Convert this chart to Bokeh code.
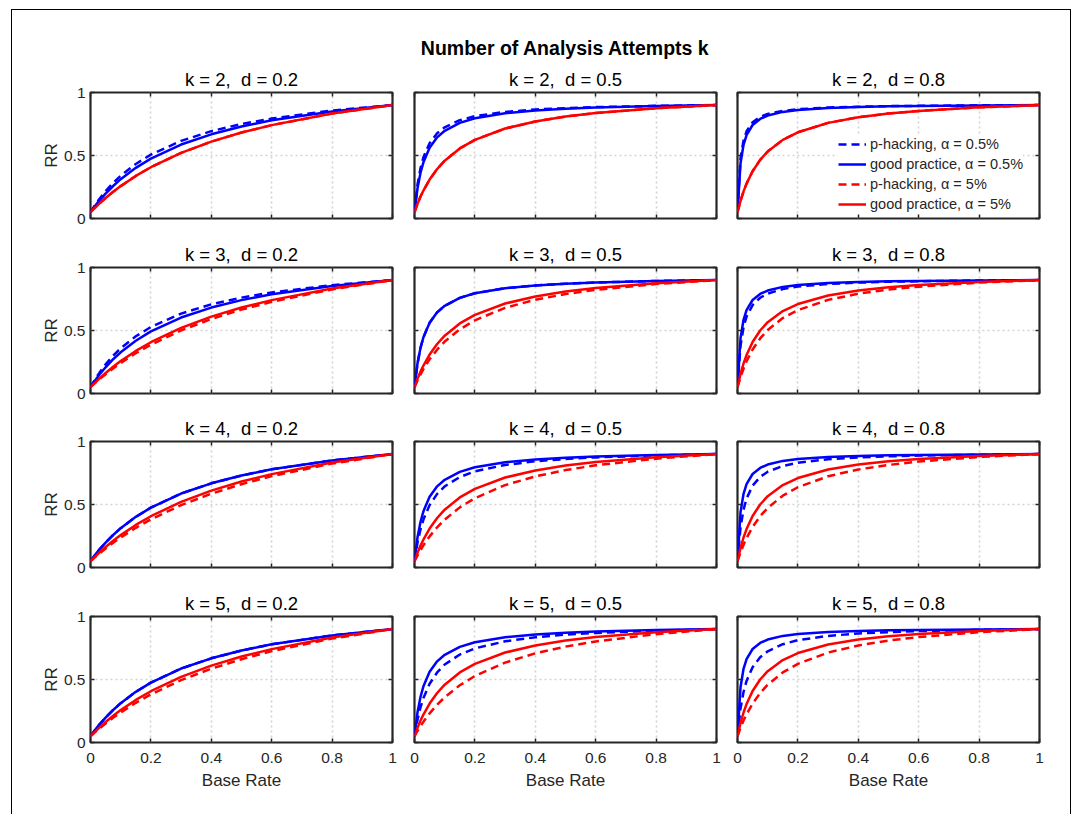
from bokeh.plotting import figure
from bokeh.models import Title, LinearAxis, FixedTicker, Legend, LegendItem, Div, Range1d, Grid
from bokeh.layouts import row, column
from bokeh.embed import file_html
from bokeh.resources import INLINE

# ---------------- data ----------------
base_rate = [0, 0.01, 0.02, 0.03, 0.05, 0.075, 0.1, 0.15, 0.2, 0.3, 0.4, 0.5, 0.6, 0.8, 1.0]
k_values = [2, 3, 4, 5]
d_values = ["0.2", "0.5", "0.8"]
x_ticks = [0, 0.2, 0.4, 0.6, 0.8, 1]
y_ticks = [0, 0.5, 1]
series_labels = ["p-hacking, \u03b1 = 0.5%", "good practice, \u03b1 = 0.5%",
                 "p-hacking, \u03b1 = 5%", "good practice, \u03b1 = 5%"]

# k = 2
rr_k2_d02_ph05 = [0.05, 0.088, 0.124, 0.157, 0.217, 0.283, 0.340, 0.433, 0.507, 0.616, 0.693, 0.750, 0.793, 0.857, 0.9]
rr_k2_d02_gp05 = [0.05, 0.083, 0.114, 0.144, 0.198, 0.258, 0.312, 0.402, 0.475, 0.587, 0.668, 0.730, 0.779, 0.850, 0.9]
rr_k2_d02_ph5 = [0.05, 0.074, 0.097, 0.120, 0.163, 0.212, 0.257, 0.338, 0.407, 0.521, 0.610, 0.682, 0.741, 0.833, 0.9]
rr_k2_d02_gp5 = [0.05, 0.074, 0.097, 0.120, 0.163, 0.212, 0.257, 0.338, 0.407, 0.521, 0.610, 0.682, 0.741, 0.833, 0.9]
rr_k2_d05_ph05 = [0.05, 0.270, 0.401, 0.489, 0.598, 0.676, 0.724, 0.780, 0.812, 0.846, 0.865, 0.876, 0.884, 0.894, 0.9]
rr_k2_d05_gp05 = [0.05, 0.240, 0.363, 0.449, 0.561, 0.644, 0.696, 0.759, 0.796, 0.836, 0.858, 0.871, 0.881, 0.893, 0.9]
rr_k2_d05_ph5 = [0.05, 0.116, 0.174, 0.224, 0.309, 0.393, 0.459, 0.556, 0.624, 0.714, 0.770, 0.809, 0.837, 0.875, 0.9]
rr_k2_d05_gp5 = [0.05, 0.116, 0.174, 0.224, 0.309, 0.393, 0.459, 0.556, 0.624, 0.714, 0.770, 0.809, 0.837, 0.875, 0.9]
rr_k2_d08_ph05 = [0.05, 0.477, 0.620, 0.692, 0.764, 0.807, 0.830, 0.854, 0.867, 0.881, 0.887, 0.892, 0.894, 0.898, 0.9]
rr_k2_d08_gp05 = [0.05, 0.438, 0.585, 0.662, 0.742, 0.790, 0.817, 0.846, 0.861, 0.877, 0.885, 0.890, 0.893, 0.897, 0.9]
rr_k2_d08_ph5 = [0.05, 0.140, 0.215, 0.277, 0.375, 0.465, 0.532, 0.624, 0.684, 0.759, 0.804, 0.833, 0.854, 0.882, 0.9]
rr_k2_d08_gp5 = [0.05, 0.140, 0.215, 0.277, 0.375, 0.465, 0.532, 0.624, 0.684, 0.759, 0.804, 0.833, 0.854, 0.882, 0.9]
# k = 3
rr_k3_d02_ph05 = [0.05, 0.092, 0.131, 0.166, 0.231, 0.300, 0.359, 0.454, 0.528, 0.634, 0.708, 0.761, 0.802, 0.860, 0.9]
rr_k3_d02_gp05 = [0.05, 0.086, 0.119, 0.151, 0.208, 0.272, 0.327, 0.419, 0.493, 0.603, 0.682, 0.741, 0.787, 0.854, 0.9]
rr_k3_d02_ph5 = [0.05, 0.072, 0.093, 0.114, 0.153, 0.199, 0.242, 0.320, 0.387, 0.501, 0.591, 0.666, 0.728, 0.826, 0.9]
rr_k3_d02_gp5 = [0.05, 0.074, 0.097, 0.120, 0.163, 0.212, 0.257, 0.338, 0.407, 0.521, 0.610, 0.682, 0.741, 0.833, 0.9]
rr_k3_d05_ph05 = [0.05, 0.240, 0.363, 0.449, 0.561, 0.644, 0.696, 0.759, 0.796, 0.836, 0.858, 0.871, 0.881, 0.893, 0.9]
rr_k3_d05_gp05 = [0.05, 0.240, 0.363, 0.449, 0.561, 0.644, 0.696, 0.759, 0.796, 0.836, 0.858, 0.871, 0.881, 0.893, 0.9]
rr_k3_d05_ph5 = [0.05, 0.104, 0.152, 0.195, 0.271, 0.348, 0.412, 0.509, 0.581, 0.680, 0.744, 0.789, 0.823, 0.869, 0.9]
rr_k3_d05_gp5 = [0.05, 0.116, 0.174, 0.224, 0.309, 0.393, 0.459, 0.556, 0.624, 0.714, 0.770, 0.809, 0.837, 0.875, 0.9]
rr_k3_d08_ph05 = [0.05, 0.379, 0.526, 0.610, 0.702, 0.760, 0.793, 0.829, 0.849, 0.869, 0.880, 0.887, 0.891, 0.897, 0.9]
rr_k3_d08_gp05 = [0.05, 0.438, 0.585, 0.662, 0.742, 0.790, 0.817, 0.846, 0.861, 0.877, 0.885, 0.890, 0.893, 0.897, 0.9]
rr_k3_d08_ph5 = [0.05, 0.130, 0.198, 0.256, 0.349, 0.437, 0.504, 0.599, 0.662, 0.743, 0.792, 0.825, 0.848, 0.880, 0.9]
rr_k3_d08_gp5 = [0.05, 0.155, 0.238, 0.305, 0.409, 0.500, 0.566, 0.654, 0.710, 0.778, 0.817, 0.843, 0.861, 0.885, 0.9]
# k = 4
rr_k4_d02_ph05 = [0.05, 0.083, 0.114, 0.144, 0.198, 0.258, 0.312, 0.402, 0.475, 0.587, 0.668, 0.730, 0.779, 0.850, 0.9]
rr_k4_d02_gp05 = [0.05, 0.083, 0.114, 0.144, 0.198, 0.258, 0.312, 0.402, 0.475, 0.587, 0.668, 0.730, 0.779, 0.850, 0.9]
rr_k4_d02_ph5 = [0.05, 0.071, 0.092, 0.112, 0.151, 0.196, 0.238, 0.315, 0.382, 0.495, 0.586, 0.661, 0.725, 0.825, 0.9]
rr_k4_d02_gp5 = [0.05, 0.074, 0.097, 0.120, 0.163, 0.212, 0.257, 0.338, 0.407, 0.521, 0.610, 0.682, 0.741, 0.833, 0.9]
rr_k4_d05_ph05 = [0.05, 0.198, 0.304, 0.383, 0.495, 0.584, 0.644, 0.718, 0.763, 0.814, 0.843, 0.861, 0.874, 0.890, 0.9]
rr_k4_d05_gp05 = [0.05, 0.240, 0.363, 0.449, 0.561, 0.644, 0.696, 0.759, 0.796, 0.836, 0.858, 0.871, 0.881, 0.893, 0.9]
rr_k4_d05_ph5 = [0.05, 0.096, 0.139, 0.178, 0.247, 0.319, 0.380, 0.477, 0.550, 0.654, 0.723, 0.773, 0.811, 0.864, 0.9]
rr_k4_d05_gp5 = [0.05, 0.116, 0.174, 0.224, 0.309, 0.393, 0.459, 0.556, 0.624, 0.714, 0.770, 0.809, 0.837, 0.875, 0.9]
rr_k4_d08_ph05 = [0.05, 0.317, 0.459, 0.547, 0.649, 0.719, 0.760, 0.806, 0.831, 0.859, 0.873, 0.882, 0.888, 0.895, 0.9]
rr_k4_d08_gp05 = [0.05, 0.438, 0.585, 0.662, 0.742, 0.790, 0.817, 0.846, 0.861, 0.877, 0.885, 0.890, 0.893, 0.897, 0.9]
rr_k4_d08_ph5 = [0.05, 0.120, 0.181, 0.234, 0.322, 0.407, 0.473, 0.570, 0.637, 0.724, 0.778, 0.814, 0.841, 0.877, 0.9]
rr_k4_d08_gp5 = [0.05, 0.155, 0.238, 0.305, 0.409, 0.500, 0.566, 0.654, 0.710, 0.778, 0.817, 0.843, 0.861, 0.885, 0.9]
# k = 5
rr_k5_d02_ph05 = [0.05, 0.083, 0.114, 0.144, 0.198, 0.258, 0.312, 0.402, 0.475, 0.587, 0.668, 0.730, 0.779, 0.850, 0.9]
rr_k5_d02_gp05 = [0.05, 0.083, 0.114, 0.144, 0.198, 0.258, 0.312, 0.402, 0.475, 0.587, 0.668, 0.730, 0.779, 0.850, 0.9]
rr_k5_d02_ph5 = [0.05, 0.071, 0.092, 0.112, 0.151, 0.196, 0.238, 0.315, 0.382, 0.495, 0.586, 0.661, 0.725, 0.825, 0.9]
rr_k5_d02_gp5 = [0.05, 0.074, 0.097, 0.120, 0.163, 0.212, 0.257, 0.338, 0.407, 0.521, 0.610, 0.682, 0.741, 0.833, 0.9]
rr_k5_d05_ph05 = [0.05, 0.182, 0.280, 0.356, 0.466, 0.556, 0.619, 0.698, 0.747, 0.803, 0.835, 0.856, 0.870, 0.888, 0.9]
rr_k5_d05_gp05 = [0.05, 0.240, 0.363, 0.449, 0.561, 0.644, 0.696, 0.759, 0.796, 0.836, 0.858, 0.871, 0.881, 0.893, 0.9]
rr_k5_d05_ph5 = [0.05, 0.092, 0.131, 0.166, 0.231, 0.300, 0.359, 0.454, 0.528, 0.634, 0.708, 0.761, 0.802, 0.860, 0.9]
rr_k5_d05_gp5 = [0.05, 0.116, 0.174, 0.224, 0.309, 0.393, 0.459, 0.556, 0.624, 0.714, 0.770, 0.809, 0.837, 0.875, 0.9]
rr_k5_d08_ph05 = [0.05, 0.270, 0.401, 0.489, 0.598, 0.676, 0.724, 0.780, 0.812, 0.846, 0.865, 0.876, 0.884, 0.894, 0.9]
rr_k5_d08_gp05 = [0.05, 0.438, 0.585, 0.662, 0.742, 0.790, 0.817, 0.846, 0.861, 0.877, 0.885, 0.890, 0.893, 0.897, 0.9]
rr_k5_d08_ph5 = [0.05, 0.116, 0.174, 0.224, 0.309, 0.393, 0.459, 0.556, 0.624, 0.714, 0.770, 0.809, 0.837, 0.875, 0.9]
rr_k5_d08_gp5 = [0.05, 0.155, 0.238, 0.305, 0.409, 0.500, 0.566, 0.654, 0.710, 0.778, 0.817, 0.843, 0.861, 0.885, 0.9]

panels = {
    (2, "0.2"): [rr_k2_d02_ph05, rr_k2_d02_gp05, rr_k2_d02_ph5, rr_k2_d02_gp5],
    (2, "0.5"): [rr_k2_d05_ph05, rr_k2_d05_gp05, rr_k2_d05_ph5, rr_k2_d05_gp5],
    (2, "0.8"): [rr_k2_d08_ph05, rr_k2_d08_gp05, rr_k2_d08_ph5, rr_k2_d08_gp5],
    (3, "0.2"): [rr_k3_d02_ph05, rr_k3_d02_gp05, rr_k3_d02_ph5, rr_k3_d02_gp5],
    (3, "0.5"): [rr_k3_d05_ph05, rr_k3_d05_gp05, rr_k3_d05_ph5, rr_k3_d05_gp5],
    (3, "0.8"): [rr_k3_d08_ph05, rr_k3_d08_gp05, rr_k3_d08_ph5, rr_k3_d08_gp5],
    (4, "0.2"): [rr_k4_d02_ph05, rr_k4_d02_gp05, rr_k4_d02_ph5, rr_k4_d02_gp5],
    (4, "0.5"): [rr_k4_d05_ph05, rr_k4_d05_gp05, rr_k4_d05_ph5, rr_k4_d05_gp5],
    (4, "0.8"): [rr_k4_d08_ph05, rr_k4_d08_gp05, rr_k4_d08_ph5, rr_k4_d08_gp5],
    (5, "0.2"): [rr_k5_d02_ph05, rr_k5_d02_gp05, rr_k5_d02_ph5, rr_k5_d02_gp5],
    (5, "0.5"): [rr_k5_d05_ph05, rr_k5_d05_gp05, rr_k5_d05_ph5, rr_k5_d05_gp5],
    (5, "0.8"): [rr_k5_d08_ph05, rr_k5_d08_gp05, rr_k5_d08_ph5, rr_k5_d08_gp5],
}

# ---------------- styling ----------------
FONT = "Liberation Sans"
DARK = "#262626"
series_colors = ["#0000ff", "#0000ff", "#ff0000", "#ff0000"]
series_dash = ["8 5", "solid", "8 5", "solid"]

col_left = [78, 12, 11]
col_right = [10, 10, 31]
row_top = [82, 39, 38, 39]
row_bottom = [10, 10, 10, 60]


def hidden_axis(dim_ticks):
    # tick marks only (MATLAB-style box ticks); labels are not drawn
    ax = LinearAxis(ticker=FixedTicker(ticks=dim_ticks), major_tick_in=4, major_tick_out=0,
                    minor_tick_line_color=None, axis_line_color=None,
                    major_tick_line_color=DARK, major_tick_line_width=1.5,
                    major_label_text_color=None, major_label_text_font_size="1px",
                    major_label_standoff=0)
    return ax


def make_panel(i, j):
    k = k_values[i]
    d = d_values[j]
    p = figure(frame_width=302, frame_height=126,
               x_range=Range1d(0, 1), y_range=Range1d(0, 1),
               min_border_left=col_left[j], min_border_right=col_right[j],
               min_border_top=row_top[i], min_border_bottom=row_bottom[i],
               x_axis_type=None, y_axis_type=None,
               output_backend="svg", toolbar_location=None,
               background_fill_color="white", border_fill_color="white",
               outline_line_color=DARK, outline_line_width=2.2)

    # grids
    for dim, ticks in ((0, x_ticks), (1, y_ticks)):
        g = Grid(dimension=dim, ticker=FixedTicker(ticks=ticks),
                 grid_line_color="#d2d2d2", grid_line_dash="2 3", grid_line_width=1.6)
        p.add_layout(g, "center")

    # bottom axis
    if i == len(k_values) - 1:
        xb = LinearAxis(ticker=FixedTicker(ticks=x_ticks), major_tick_in=4, major_tick_out=0,
                        minor_tick_line_color=None, axis_line_color=None,
                        major_tick_line_color=DARK, major_tick_line_width=1.5,
                        major_label_text_font=FONT, major_label_text_font_size="15.5px",
                        major_label_text_color=DARK, major_label_standoff=10,
                        axis_label="Base Rate", axis_label_text_font=FONT,
                        axis_label_text_font_size="17px", axis_label_text_font_style="normal",
                        axis_label_text_color=DARK, axis_label_standoff=5)
    else:
        xb = hidden_axis(x_ticks)
    p.add_layout(xb, "below")

    # left axis
    if j == 0:
        yl = LinearAxis(ticker=FixedTicker(ticks=y_ticks), major_tick_in=4, major_tick_out=0,
                        minor_tick_line_color=None, axis_line_color=None,
                        major_tick_line_color=DARK, major_tick_line_width=1.5,
                        major_label_text_font=FONT, major_label_text_font_size="15.5px",
                        major_label_text_color=DARK, major_label_standoff=5,
                        axis_label="RR", axis_label_text_font=FONT,
                        axis_label_text_font_size="17px", axis_label_text_font_style="normal",
                        axis_label_text_color=DARK, axis_label_standoff=0)
    else:
        yl = hidden_axis(y_ticks)
    p.add_layout(yl, "left")
    p.add_layout(hidden_axis(y_ticks), "right")
    p.add_layout(hidden_axis(x_ticks), "above")

    # titles
    sub = Title(text=f"k = {k},\u00a0 d = {d}", align="center", text_font=FONT,
                text_font_size="18.5px", text_font_style="normal", text_color="black", standoff=5)
    p.add_layout(sub, "above")
    if i == 0 and j == 1:
        main = Title(text="Number of Analysis Attempts k", align="center", text_font=FONT,
                     text_font_size="19.5px", text_font_style="bold", text_color="black", standoff=12)
        p.add_layout(main, "above")

    renderers = []
    for s, ys in enumerate(panels[(k, d)]):
        r = p.line(base_rate, ys, line_color=series_colors[s], line_width=2.5,
                   line_dash=series_dash[s])
        renderers.append(r)

    if i == 0 and j == 2:
        items = [LegendItem(label=series_labels[s], renderers=[renderers[s]]) for s in range(4)]
        leg = Legend(items=items, location=(101, 4), padding=2, margin=0, spacing=0,
                     label_height=20, glyph_height=20, glyph_width=28, label_standoff=4,
                     border_line_color=None, background_fill_color="white", background_fill_alpha=1,
                     label_text_font=FONT, label_text_font_size="14.5px", label_text_color=DARK)
        p.add_layout(leg, "center")
    return p


def bar(w, h, color=None):
    styles = {"background-color": color} if color else {}
    return Div(text="", width=w, height=h, margin=0, styles=styles)


grid_rows = []
for i in range(len(k_values)):
    figs = [make_panel(i, j) for j in range(len(d_values))]
    grid_rows.append(row(*figs, spacing=0))

inner = column(bar(1058, 1, "black"), *grid_rows, spacing=0)
layout = column(bar(1077, 9),
                row(bar(11, 805), bar(1, 805, "black"), inner, bar(1, 805, "black"), spacing=0),
                spacing=0)

open("out.html", "w").write(file_html(layout, INLINE, title="RR vs Base Rate"))
